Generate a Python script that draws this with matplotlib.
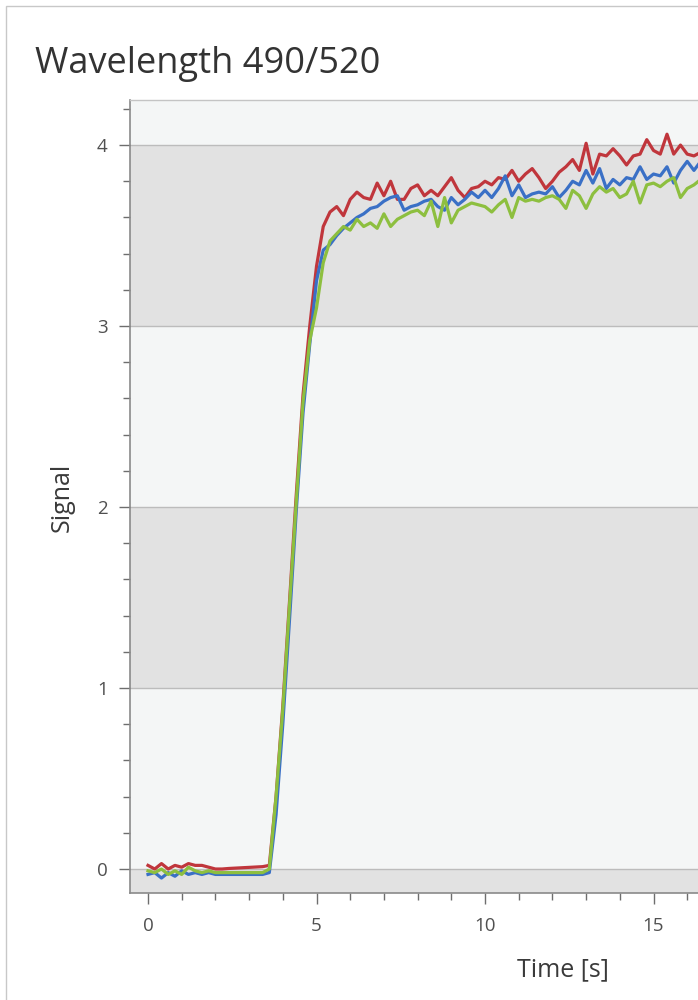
import numpy as np
import matplotlib
matplotlib.use("Agg")
import matplotlib.pyplot as plt
from matplotlib.patches import Rectangle
from matplotlib.ticker import MultipleLocator

plt.rcParams['font.family'] = ['Open Sans', 'DejaVu Sans']

# sample clock (s)
time_s = np.round(np.arange(0, 16.41, 0.2), 1)

signal_red = [
    0.02, 0.00, 0.03, 0.00, 0.02, 0.01, 0.03, 0.02, 0.02, 0.01,
    0.00, 0.00, 0.003, 0.005, 0.007, 0.009, 0.011, 0.013, 0.02, 0.40,
    0.90, 1.48, 2.07, 2.62, 3.00, 3.33, 3.55, 3.63, 3.66, 3.61,
    3.70, 3.74, 3.71, 3.70, 3.79, 3.72, 3.80, 3.70, 3.70, 3.76,
    3.78, 3.72, 3.75, 3.72, 3.77, 3.82, 3.75, 3.71, 3.76, 3.77,
    3.80, 3.78, 3.82, 3.81, 3.86, 3.80, 3.84, 3.87, 3.82, 3.76,
    3.80, 3.85, 3.88, 3.92, 3.86, 4.01, 3.84, 3.95, 3.94, 3.98,
    3.94, 3.89, 3.94, 3.95, 4.03, 3.97, 3.95, 4.06, 3.95, 4.00,
    3.95, 3.94, 3.96,
]

signal_blue = [
    -0.03, -0.02, -0.05, -0.02, -0.04, -0.01, -0.03, -0.02, -0.03, -0.02,
    -0.03, -0.03, -0.03, -0.03, -0.03, -0.03, -0.03, -0.03, -0.02, 0.30,
    0.80, 1.38, 1.98, 2.52, 2.90, 3.25, 3.42, 3.45, 3.50, 3.54,
    3.57, 3.60, 3.62, 3.65, 3.66, 3.69, 3.71, 3.72, 3.64, 3.66,
    3.67, 3.69, 3.70, 3.66, 3.64, 3.71, 3.67, 3.70, 3.74, 3.71,
    3.75, 3.71, 3.76, 3.83, 3.72, 3.78, 3.71, 3.73, 3.74, 3.73,
    3.77, 3.71, 3.75, 3.80, 3.78, 3.86, 3.79, 3.87, 3.76, 3.81,
    3.78, 3.82, 3.81, 3.88, 3.81, 3.84, 3.83, 3.88, 3.79, 3.86,
    3.91, 3.86, 3.91,
]

signal_green = [
    -0.01, -0.02, 0.00, -0.03, -0.01, -0.03, 0.01, -0.01, -0.02, -0.01,
    -0.02, -0.02, -0.02, -0.02, -0.02, -0.02, -0.02, -0.02, 0.00, 0.40,
    0.88, 1.46, 2.03, 2.58, 2.92, 3.10, 3.35, 3.47, 3.51, 3.55,
    3.53, 3.59, 3.55, 3.57, 3.54, 3.62, 3.55, 3.59, 3.61, 3.63,
    3.64, 3.61, 3.69, 3.55, 3.71, 3.57, 3.64, 3.66, 3.68, 3.67,
    3.66, 3.63, 3.67, 3.70, 3.60, 3.71, 3.69, 3.70, 3.69, 3.71,
    3.72, 3.70, 3.65, 3.75, 3.72, 3.65, 3.73, 3.77, 3.74, 3.76,
    3.71, 3.73, 3.80, 3.68, 3.78, 3.79, 3.77, 3.80, 3.82, 3.71,
    3.76, 3.78, 3.81,
]

x_major_ticks = [0, 5, 10, 15]
y_major_ticks = [0, 1, 2, 3, 4]

W, H = 698, 1000
fig = plt.figure(figsize=(W / 100, H / 100), dpi=100)
fig.patch.set_facecolor('white')

ax_left, ax_right, ax_top, ax_bottom = 130, 698, 100, 893
ax = fig.add_axes([ax_left / W, 1 - ax_bottom / H, (ax_right - ax_left) / W, (ax_bottom - ax_top) / H])

light = '#f4f6f6'
dark = '#e2e2e2'
ax.set_facecolor(light)
ymin, ymax = -0.1326, 4.249
xmin, xmax = -0.534, 16.32
ax.axhspan(ymin, 0, color=dark, zorder=0, lw=0)
ax.axhspan(1, 2, color=dark, zorder=0, lw=0)
ax.axhspan(3, 4, color=dark, zorder=0, lw=0)
for yv in y_major_ticks:
    ax.axhline(yv, color='#bcbcbc', lw=1.0, zorder=1)

lw = 2.3
ax.plot(time_s, signal_red, color='#c0363c', lw=lw, zorder=3)
ax.plot(time_s, signal_blue, color='#3a70c6', lw=lw, zorder=4)
ax.plot(time_s, signal_green, color='#8dbf3f', lw=lw, zorder=5)

ax.set_xlim(xmin, xmax)
ax.set_ylim(ymin, ymax)
ax.set_xticks(x_major_ticks)
ax.set_yticks(y_major_ticks)
ax.xaxis.set_minor_locator(MultipleLocator(1))
ax.yaxis.set_minor_locator(MultipleLocator(0.2))

tick_color = '#6e6e6e'
ax.tick_params(axis='both', which='major', length=8, width=1, color=tick_color,
               labelsize=13.5, labelcolor='#505050')
ax.tick_params(axis='both', which='minor', length=5, width=1, color=tick_color)
ax.tick_params(axis='y', which='major', pad=8)
ax.tick_params(axis='x', which='major', pad=9)

for side in ['left', 'bottom']:
    ax.spines[side].set_color('#8a8a8a')
    ax.spines[side].set_linewidth(1.2)
ax.spines['top'].set_color('#c4c4c4')
ax.spines['top'].set_linewidth(1.0)
ax.spines['right'].set_visible(False)

fig.text(35 / W, 1 - 73 / H, 'Wavelength 490/520', fontsize=26, color='#333333',
         ha='left', va='baseline')
fig.text(563 / W, 1 - 976 / H, 'Time [s]', fontsize=18, color='#3a3a3a',
         ha='center', va='baseline')
fig.text(62 / W, 1 - 497 / H, 'Signal', fontsize=18, color='#3a3a3a',
         ha='center', va='center', rotation=90)

fig.add_artist(Rectangle((5.5 / W, -0.1), 2.0, (H - 5.5) / H + 0.1,
                         transform=fig.transFigure, fill=False,
                         edgecolor='#c8c8c8', lw=1.0))

fig.savefig('out.png', dpi=100)
